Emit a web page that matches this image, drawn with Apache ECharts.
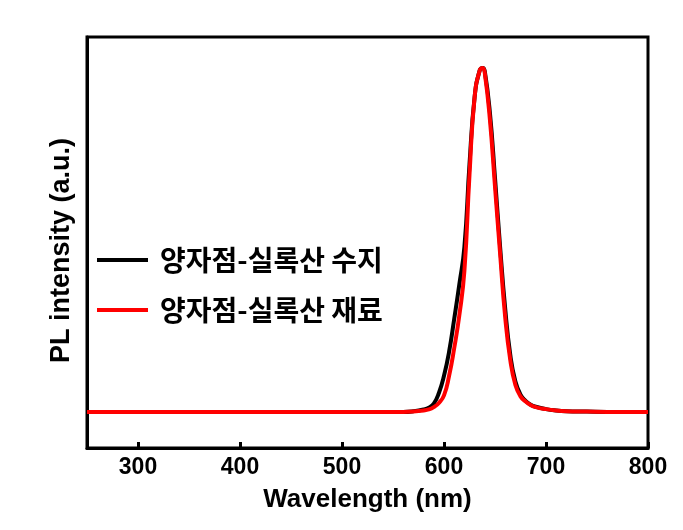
<!DOCTYPE html>
<html><head><meta charset="utf-8">
<script src="https://cdn.jsdelivr.net/npm/echarts@6/dist/echarts.min.js"></script>
<style>html,body{margin:0;padding:0;background:#fff}#c{width:683px;height:530px}</style>
</head><body><div id="c"></div>
<script>
var wavelengths = [250,300,350,400,450,500,550,560,570,580,585,590,595,600,605,610,615,620,625,630,635,638,640,645,650,655,660,665,670,675,680,685,690,700,710,720,740,760,800];
var resinValues = [0,0,0,0,0,0,0,0,2,7,12,24,55,105,175,270,370,480,720,915,993,1000,990,870,680,480,300,165,88,50,32,21,15,8,4,2,1,0,0];
var materialValues = [0,0,0,0,0,0,0,0,1,4,7,14,26,48,105,185,280,410,690,915,993,1000,985,850,655,460,275,150,78,45,30,20,14,8,4,2,1,0,0];
var seriesNames = ['양자점-실록산 수지','양자점-실록산 재료'];
var xTicks = [300,400,500,600,700,800];

function pairs(v){return wavelengths.map(function(w,i){return [w,v[i]];});}
var chart = echarts.init(document.getElementById('c'));
var numFont = '"Liberation Sans",Arial,sans-serif';
chart.setOption({
  animation:false,
  grid:{left:87,right:35,top:37,bottom:82,show:true,borderColor:'#000',borderWidth:3,backgroundColor:'transparent'},
  legend:{
    orient:'vertical',left:92,top:241,itemWidth:51,itemHeight:4,itemGap:22,
    textStyle:{fontFamily:'"Noto Sans CJK KR",sans-serif',fontWeight:'bold',fontSize:28,color:'#000',padding:[0,0,0,7]},
    data:[{name:seriesNames[0],icon:'rect'},{name:seriesNames[1],icon:'rect'}]
  },
  xAxis:{
    type:'value',min:250,max:800,
    name:'Wavelength (nm)',nameLocation:'middle',nameGap:39,
    nameTextStyle:{fontFamily:numFont,fontWeight:'bold',fontSize:26,color:'#000'},
    axisLine:{show:true,onZero:false,lineStyle:{color:'#000',width:3}},
    axisTick:{show:true,inside:true,length:6,lineStyle:{color:'#000',width:3},customValues:xTicks},
    axisLabel:{fontFamily:numFont,fontWeight:'bold',fontSize:23,color:'#000',margin:8,customValues:xTicks},
    splitLine:{show:false}
  },
  yAxis:{
    type:'value',min:-105,max:1090,
    name:'PL intensity (a.u.)',nameLocation:'middle',nameGap:12,
    nameTextStyle:{fontFamily:numFont,fontWeight:'bold',fontSize:27,color:'#000',verticalAlign:'bottom',padding:[0,16,0,0]},
    axisLine:{show:true,onZero:false,lineStyle:{color:'#000',width:3}},
    axisTick:{show:false},axisLabel:{show:false},splitLine:{show:false}
  },
  series:[
    {name:seriesNames[0],type:'line',smooth:true,symbol:'none',data:pairs(resinValues),lineStyle:{color:'#000',width:4},itemStyle:{color:'#000'}},
    {name:seriesNames[1],type:'line',smooth:true,symbol:'none',data:pairs(materialValues),lineStyle:{color:'#ff0000',width:4},itemStyle:{color:'#ff0000'}}
  ]
});
</script></body></html>
